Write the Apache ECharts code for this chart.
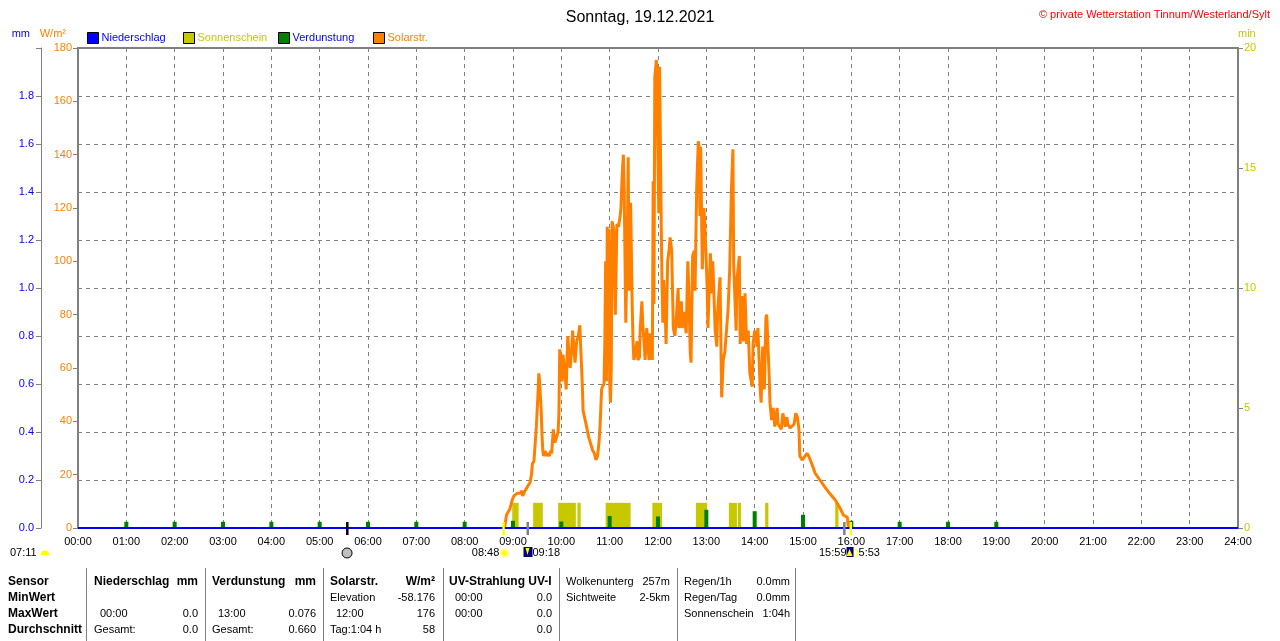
<!DOCTYPE html>
<html><head><meta charset="utf-8">
<script src="https://cdn.jsdelivr.net/npm/echarts@6/dist/echarts.min.js"></script>
<style>html,body{margin:0;padding:0;background:#fff}#c{width:1280px;height:641px}</style>
</head><body><div id="c"></div>
<script>
const FONT = '"Liberation Sans", Arial, sans-serif';

// ---- data ----
const titleText = 'Sonntag, 19.12.2021';
const copyrightText = '\u00a9 private Wetterstation Tinnum/Westerland/Sylt';
const legendNames = ['Niederschlag', 'Sonnenschein', 'Verdunstung', 'Solarstr.'];

const solarTimes = ['08:49','08:50','08:52','08:56','08:59','09:01','09:05','09:09','09:11','09:12','09:15','09:17','09:19','09:21','09:23','09:24','09:26','09:27','09:29','09:30','09:31','09:32','09:33','09:35','09:36','09:37','09:38','09:40','09:41','09:43','09:45','09:47','09:48','09:50','09:52','09:54','09:56','09:57','09:58','10:00','10:01','10:02','10:04','10:06','10:08','10:10','10:11','10:13','10:14','10:16','10:17','10:19','10:21','10:23','10:24','10:26','10:27','10:30','10:32','10:34','10:36','10:38','10:39','10:41','10:43','10:45','10:47','10:48','10:50','10:51','10:53','10:54','10:55','10:56','10:57','10:58','10:59','11:00','11:01','11:02','11:03','11:05','11:07','11:09','11:11','11:13','11:14','11:15','11:16','11:17','11:18','11:19','11:20','11:22','11:23','11:24','11:26','11:28','11:29','11:30','11:32','11:34','11:35','11:37','11:38','11:40','11:41','11:43','11:44','11:46','11:47','11:49','11:50','11:52','11:53','11:54','11:55','11:56','11:58','11:59','12:00','12:01','12:02','12:04','12:05','12:06','12:07','12:09','12:10','12:11','12:12','12:14','12:15','12:17','12:19','12:21','12:23','12:25','12:26','12:28','12:29','12:30','12:32','12:35','12:37','12:38','12:40','12:41','12:43','12:45','12:46','12:48','12:50','12:51','12:52','12:53','12:55','12:57','12:58','13:00','13:01','13:02','13:05','13:07','13:08','13:11','13:13','13:14','13:17','13:19','13:21','13:23','13:26','13:27','13:29','13:31','13:32','13:33','13:34','13:37','13:38','13:41','13:42','13:44','13:46','13:48','13:50','13:52','13:54','13:57','13:58','14:00','14:03','14:04','14:07','14:08','14:10','14:12','14:14','14:15','14:18','14:19','14:21','14:23','14:25','14:28','14:29','14:33','14:35','14:38','14:40','14:41','14:44','14:46','14:49','14:51','14:53','14:55','14:56','14:59','15:01','15:05','15:07','15:11','15:15','15:21','15:27','15:33','15:40','15:46','15:50','15:55','15:56','15:58','16:00'];
const solarValues = [0,1,5,7,10.5,12,13,13,14,12,14,15,16,17,20,24,25,25.5,38,44,50,58,55,44,35,29,27,29,27,28,27,29,28,37,32,34,36,43,67,62,55,65,60,52,72,63,60,68,74,66,62,70,72,76,68,54,44,40,37,34,32,30,29,28,25.5,27,33,38,52,53,54,70,100,55,113,72,112,55,47,60,115,112,80,114,113,117,120,128,135,140,127,127,77,110,139,89,122,83,70,63,66,70,63,64,75,85,77,68,63,75,70,63,73,67,63,130,84,169,175.5,176,175,118,173,114,92,77,93,80,69,84,100,105,109,104,75,72,80,90,75,82,85,75,81,73,100,92,66,62,102,104,89,127,145,143,117,143,97,120,115,99,90,75,103,88,100,74,68,81,94,49,63,66,78,82,97,125,134,142,98,74,93,102,69,87,70,88,69,74,58,53,69,74,68,75,51,47,68,52,79,80,57,47,40.5,45,38,45,39,37,43,38,41.6,39,37.5,37,39,43,41.6,37,27,25.5,26,28,27,24,20.6,18,15.4,13,10.5,7.5,4.9,4,1,0.4,0];

const sunStarts = ['08:59','09:25','09:56','10:20','10:55','11:53','12:47','13:28','13:39','14:13','15:40'];
const sunEnds   = ['09:07','09:37','10:18','10:24','11:26','12:05','13:01','13:38','13:43','14:17','15:44'];
const sunMinutes = [1.05,1.05,1.05,1.05,1.05,1.05,1.05,1.05,1.05,1.05,1.05];

const evapHours  = [1,2,3,4,5,6,7,8,9,10,11,12,13,14,15,16,17,18,19];
const evapValues = [0.026,0.026,0.026,0.026,0.026,0.026,0.026,0.026,0.03,0.027,0.05,0.048,0.076,0.07,0.055,0.03,0.026,0.026,0.026];

const rainHours  = [0,1,2,3,4,5,6,7,8,9,10,11,12,13,14,15,16,17,18,19,20,21,22,23,24];
const rainValues = [0,0,0,0,0,0,0,0,0,0,0,0,0,0,0,0,0,0,0,0,0,0,0,0,0];

// markers under the time axis
const moonTime = '05:34';
const sunriseTime = '08:48';
const cloudTime = '09:18';
const grayTime2 = '15:51';
const sunsetTime = '15:59';
const dayLengthText = '07:11';
const extraText = '5:53';

// stats table
const rowLabels = ['Sensor', 'MinWert', 'MaxWert', 'Durchschnitt'];
const tableCols = [
  [['Niederschlag','mm'], ['',''], ['  00:00','0.0'], ['Gesamt:','0.0']],
  [['Verdunstung','mm'], ['',''], ['  13:00','0.076'], ['Gesamt:','0.660']],
  [['Solarstr.','W/m\u00b2'], ['Elevation','-58.176'], ['  12:00','176'], ['Tag:1:04 h','58']],
  [['UV-Strahlung UV-I',''], ['  00:00','0.0'], ['  00:00','0.0'], ['','0.0']],
  [['Wolkenunterg','257m'], ['Sichtweite','2-5km'], ['',''], ['','']],
  [['Regen/1h','0.0mm'], ['Regen/Tag','0.0mm'], ['Sonnenschein','1:04h'], ['','']]
];

// ---- layout / style ----
const C = { blue:'#0000ff', olive:'#c8c800', green:'#008000', orange:'#ff8000', gray:'#808080' };
const legendColors = [C.blue, C.olive, C.blue, C.orange];
const legendLefts = [87, 183, 278, 373];
const colBounds = [[94,198],[212,316],[330,435],[449,552],[566,670],[684,790]];
const boldHeader = [true,true,true,true,false,false];
const sepX = [86,205,323,443,559,677,795];
const rowY = [582,598,614,630];

const toH = s => { const p = s.split(':'); return +p[0] + (+p[1]) / 60; };

const chart = echarts.init(document.getElementById('c'), null, {renderer:'canvas'});
const dash = { color: C.gray, type: [4,4], width: 1 };

const option = {
  animation: false,
  backgroundColor: '#fff',
  textStyle: { fontFamily: FONT },
  title: [
    { text: titleText, left: 'center', top: 5, textStyle: { fontSize: 16, fontWeight: 'normal', color: '#000', fontFamily: FONT } },
    { text: copyrightText, right: 5, top: 4, textStyle: { fontSize: 11, fontWeight: 'normal', color: '#ff0000', fontFamily: FONT } }
  ],
  legend: legendNames.map((n, i) => ({
    data: [{ name: n, icon: 'rect', textStyle: { color: legendColors[i] }, itemStyle: { borderColor: '#000', borderWidth: 1 } }],
    left: legendLefts[i], top: 32, padding: 0, itemWidth: 11, itemHeight: 11, itemGap: 5,
    selectedMode: false, textStyle: { fontSize: 11, fontFamily: FONT, padding: [0,0,0,-2] }
  })),
  grid: { left: 78, right: 42, top: 48, bottom: 113, show: true, borderColor: C.gray, borderWidth: 2, backgroundColor: 'transparent' },
  xAxis: {
    type: 'value', min: 0, max: 24, interval: 1,
    axisLine: { show: true, lineStyle: { color: C.gray, width: 2 } },
    axisTick: { show: false },
    axisLabel: { color: '#000', fontSize: 11, margin: 8, fontFamily: FONT,
      formatter: v => String(v).padStart(2, '0') + ':00' },
    splitLine: { show: true, lineStyle: dash }
  },
  yAxis: [
    { type: 'value', min: 0, max: 180, interval: 20, position: 'left',
      name: 'W/m\u00b2', nameLocation: 'end', nameGap: 9,
      nameTextStyle: { color: C.orange, fontSize: 11, align: 'right', padding: [0, 12, 0, 0], fontFamily: FONT },
      axisLine: { show: true, lineStyle: { color: C.gray, width: 2 } },
      axisTick: { show: true, length: 5, lineStyle: { color: C.gray } },
      axisLabel: { color: C.orange, fontSize: 11, margin: 6, fontFamily: FONT },
      splitLine: { show: false } },
    { type: 'value', min: 0, max: 2, interval: 0.2, position: 'left', offset: 37,
      name: 'mm', nameLocation: 'end', nameGap: 9,
      nameTextStyle: { color: C.blue, fontSize: 11, align: 'right', padding: [0, 11, 0, 0], fontFamily: FONT },
      axisLine: { show: true, lineStyle: { color: C.gray, width: 1 } },
      axisTick: { show: true, length: 5, lineStyle: { color: C.gray } },
      axisLabel: { color: C.blue, fontSize: 11, margin: 7, fontFamily: FONT,
        formatter: v => v >= 2 ? '' : v.toFixed(1) },
      splitLine: { show: true, lineStyle: dash } },
    { type: 'value', min: 0, max: 20, interval: 5, position: 'right',
      name: 'min', nameLocation: 'end', nameGap: 9,
      nameTextStyle: { color: C.olive, fontSize: 11, align: 'left', padding: [0, 0, 0, 0], fontFamily: FONT },
      axisLine: { show: true, lineStyle: { color: C.gray, width: 2 } },
      axisTick: { show: true, length: 5, lineStyle: { color: C.gray } },
      axisLabel: { color: C.olive, fontSize: 11, margin: 6, fontFamily: FONT },
      splitLine: { show: false } }
  ],
  series: [
    { name: 'Sonnenschein', type: 'custom', yAxisIndex: 2, z: 2,
      itemStyle: { color: C.olive },
      encode: { x: [0, 1], y: 2 },
      data: sunStarts.map((s, i) => [toH(s), toH(sunEnds[i]), sunMinutes[i]]),
      renderItem: (params, api) => {
        const p0 = api.coord([api.value(0), api.value(2)]);
        const p1 = api.coord([api.value(1), 0]);
        return { type: 'rect', shape: { x: p0[0], y: p0[1], width: p1[0] - p0[0], height: p1[1] - p0[1] },
          style: { fill: C.olive } };
      } },
    { name: 'Verdunstung', type: 'bar', yAxisIndex: 1, z: 3, barWidth: 4,
      itemStyle: { color: C.green },
      data: evapHours.map((h, i) => [h, evapValues[i]]) },
    { name: 'Solarstr.', type: 'line', yAxisIndex: 0, z: 4, showSymbol: false, symbol: 'none',
      lineStyle: { color: C.orange, width: 3 }, itemStyle: { color: C.orange },
      data: solarTimes.map((t, i) => [toH(t), solarValues[i]]) },
    { name: 'Niederschlag', type: 'line', yAxisIndex: 1, z: 5, showSymbol: false, symbol: 'none',
      lineStyle: { color: C.blue, width: 2 }, itemStyle: { color: C.blue },
      data: rainHours.map((h, i) => [h, rainValues[i]]) }
  ]
};
chart.setOption(option);

// ---- graphic: markers & table ----
const X = t => chart.convertToPixel({ xAxisIndex: 0 }, toH(t));
const g = [];
const txt = (x, y, s, o) => g.push(Object.assign({ type: 'text', x: x, y: y, z: 100,
  style: Object.assign({ text: s, fill: '#000', font: '11px ' + FONT, textVerticalAlign: 'middle', textAlign: 'left' }, o || {}) }));
const bar = (x, col) => g.push({ type: 'rect', z: 100, shape: { x: x - 1, y: 522, width: 2.5, height: 13 }, style: { fill: col } });

// marker ticks
bar(X(moonTime), '#000');
bar(X(sunriseTime), '#ffff00');
bar(X(cloudTime), C.gray);
bar(X(grayTime2), C.gray);
bar(X(sunsetTime), '#ffff00');

// icons & texts
const mY = 553;
txt(10, mY, dayLengthText);
g.push({ type: 'sector', z: 100, shape: { cx: 45, cy: mY + 2, r: 4.5, startAngle: Math.PI, endAngle: 2 * Math.PI }, style: { fill: '#ffff00' } });
g.push({ type: 'circle', z: 100, shape: { cx: X(moonTime), cy: mY, r: 5 }, style: { fill: '#c0c0c0', stroke: '#000', lineWidth: 1 } });
const sx = X(sunriseTime);
txt(sx - 4, mY, sunriseTime, { textAlign: 'right' });
g.push({ type: 'circle', z: 100, shape: { cx: sx + 1, cy: mY, r: 3.5 }, style: { fill: '#ffff00', stroke: '#ffff80', lineWidth: 2 } });
const cx = X(cloudTime);
g.push({ type: 'rect', z: 100, shape: { x: cx - 4, y: mY - 6, width: 9, height: 10 }, style: { fill: '#000080' } });
g.push({ type: 'polygon', z: 101, shape: { points: [[cx - 2, mY - 5], [cx + 2, mY - 5], [cx, mY + 2]] }, style: { fill: '#ffff00' } });
txt(cx + 5, mY, cloudTime);
const ssx = X(sunsetTime);
txt(ssx - 4, mY, sunsetTime, { textAlign: 'right' });
g.push({ type: 'rect', z: 100, shape: { x: ssx - 4, y: mY - 6, width: 7, height: 10 }, style: { fill: '#000080' } });
g.push({ type: 'polygon', z: 101, shape: { points: [[ssx - 1, mY - 4], [ssx + 2, mY + 3], [ssx - 4, mY + 3]] }, style: { fill: '#ffff00' } });
g.push({ type: 'circle', z: 99, shape: { cx: ssx + 4, cy: mY, r: 3.5 }, style: { fill: '#fff', stroke: '#ffff00', lineWidth: 1 } });
txt(ssx + 8, mY, extraText);

// table separators
sepX.forEach(x => g.push({ type: 'line', z: 100, shape: { x1: x + 0.5, y1: 568, x2: x + 0.5, y2: 641 }, style: { stroke: C.gray, lineWidth: 1 } }));
// row labels
rowLabels.forEach((s, i) => txt(8, rowY[i], s, { font: 'bold 12px ' + FONT }));
// columns
tableCols.forEach((col, ci) => {
  const [l, r] = colBounds[ci];
  col.forEach((cell, ri) => {
    const f = (ri === 0 && boldHeader[ci]) ? 'bold 12px ' + FONT : '11px ' + FONT;
    if (cell[0]) {
      const indent = cell[0].startsWith('  ') ? 6 : 0;
      txt(l + indent, rowY[ri], cell[0].trim(), { font: f });
    }
    if (cell[1]) txt(r, rowY[ri], cell[1], { font: f, textAlign: 'right' });
  });
});

chart.setOption({ graphic: g });
</script>
</body></html>
